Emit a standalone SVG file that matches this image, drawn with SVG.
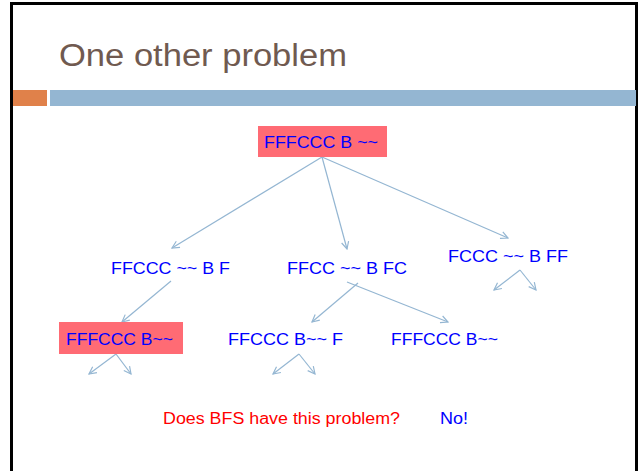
<svg xmlns="http://www.w3.org/2000/svg" width="641" height="471" viewBox="0 0 641 471">
<defs>
<style>
.node{font-family:"Liberation Sans",Arial,sans-serif;font-size:17px;fill:#0000ff}
.hl{fill:#ff6b74}
.edge{stroke:#94b6d2;stroke-width:1.2;fill:none;marker-end:url(#ah)}
</style>
<marker id="ah" viewBox="0 0 10 10" refX="9" refY="5" markerWidth="9" markerHeight="9" orient="auto" markerUnits="userSpaceOnUse">
<path d="M1,1 L9,5 L1,9" fill="none" stroke="#94b6d2" stroke-width="1.3"/>
</marker>
</defs>
<rect x="0" y="0" width="641" height="471" fill="#ffffff"/>
<path d="M11.5,471 V3.5 H636.5 V471" fill="none" stroke="#000000" stroke-width="3"/>
<text x="59" y="66" font-family="'Liberation Sans',Arial,sans-serif" font-size="31" fill="#705a50" textLength="288" lengthAdjust="spacingAndGlyphs">One other problem</text>
<rect x="13" y="90" width="34" height="16" fill="#e0814a"/>
<rect x="50" y="90" width="586" height="16" fill="#94b6d2"/>
<g id="connectors">
<line class="edge" x1="322" y1="157" x2="172" y2="248"/>
<line class="edge" x1="322" y1="157" x2="347" y2="249"/>
<line class="edge" x1="322" y1="157" x2="508" y2="238"/>
<line class="edge" x1="520" y1="270" x2="494" y2="290"/>
<line class="edge" x1="520" y1="270" x2="536" y2="290"/>
<line class="edge" x1="171" y1="281" x2="122" y2="322"/>
<line class="edge" x1="358" y1="283" x2="312" y2="322"/>
<line class="edge" x1="347" y1="282" x2="448" y2="322"/>
<line class="edge" x1="116" y1="354" x2="89" y2="374"/>
<line class="edge" x1="116" y1="354" x2="131" y2="374"/>
<line class="edge" x1="299" y1="354" x2="273" y2="374"/>
<line class="edge" x1="299" y1="354" x2="315" y2="374"/>
</g>
<g id="root">
<rect class="hl" x="258" y="126" width="129" height="31"/>
<text class="node" x="264" y="148" textLength="114" lengthAdjust="spacingAndGlyphs">FFFCCC B ~~</text>
</g>
<g id="n1">
<text class="node" x="111" y="274" textLength="119" lengthAdjust="spacingAndGlyphs">FFCCC ~~ B F</text>
</g>
<g id="n2">
<text class="node" x="287" y="274" textLength="120" lengthAdjust="spacingAndGlyphs">FFCC ~~ B FC</text>
</g>
<g id="n3">
<text class="node" x="448" y="262" textLength="120" lengthAdjust="spacingAndGlyphs">FCCC ~~ B FF</text>
</g>
<g id="n4">
<rect class="hl" x="59" y="322" width="124" height="32"/>
<text class="node" x="66" y="345" textLength="107" lengthAdjust="spacingAndGlyphs">FFFCCC B~~</text>
</g>
<g id="n5">
<text class="node" x="228" y="345" textLength="115" lengthAdjust="spacingAndGlyphs">FFCCC B~~ F</text>
</g>
<g id="n6">
<text class="node" x="391" y="345" textLength="107" lengthAdjust="spacingAndGlyphs">FFFCCC B~~</text>
</g>
<text x="163" y="424" font-family="'Liberation Sans',Arial,sans-serif" font-size="16" fill="#ff0000" textLength="237" lengthAdjust="spacingAndGlyphs">Does BFS have this problem?</text>
<text x="440" y="424" font-family="'Liberation Sans',Arial,sans-serif" font-size="16" fill="#0000ff" textLength="28" lengthAdjust="spacingAndGlyphs">No!</text>
</svg>
